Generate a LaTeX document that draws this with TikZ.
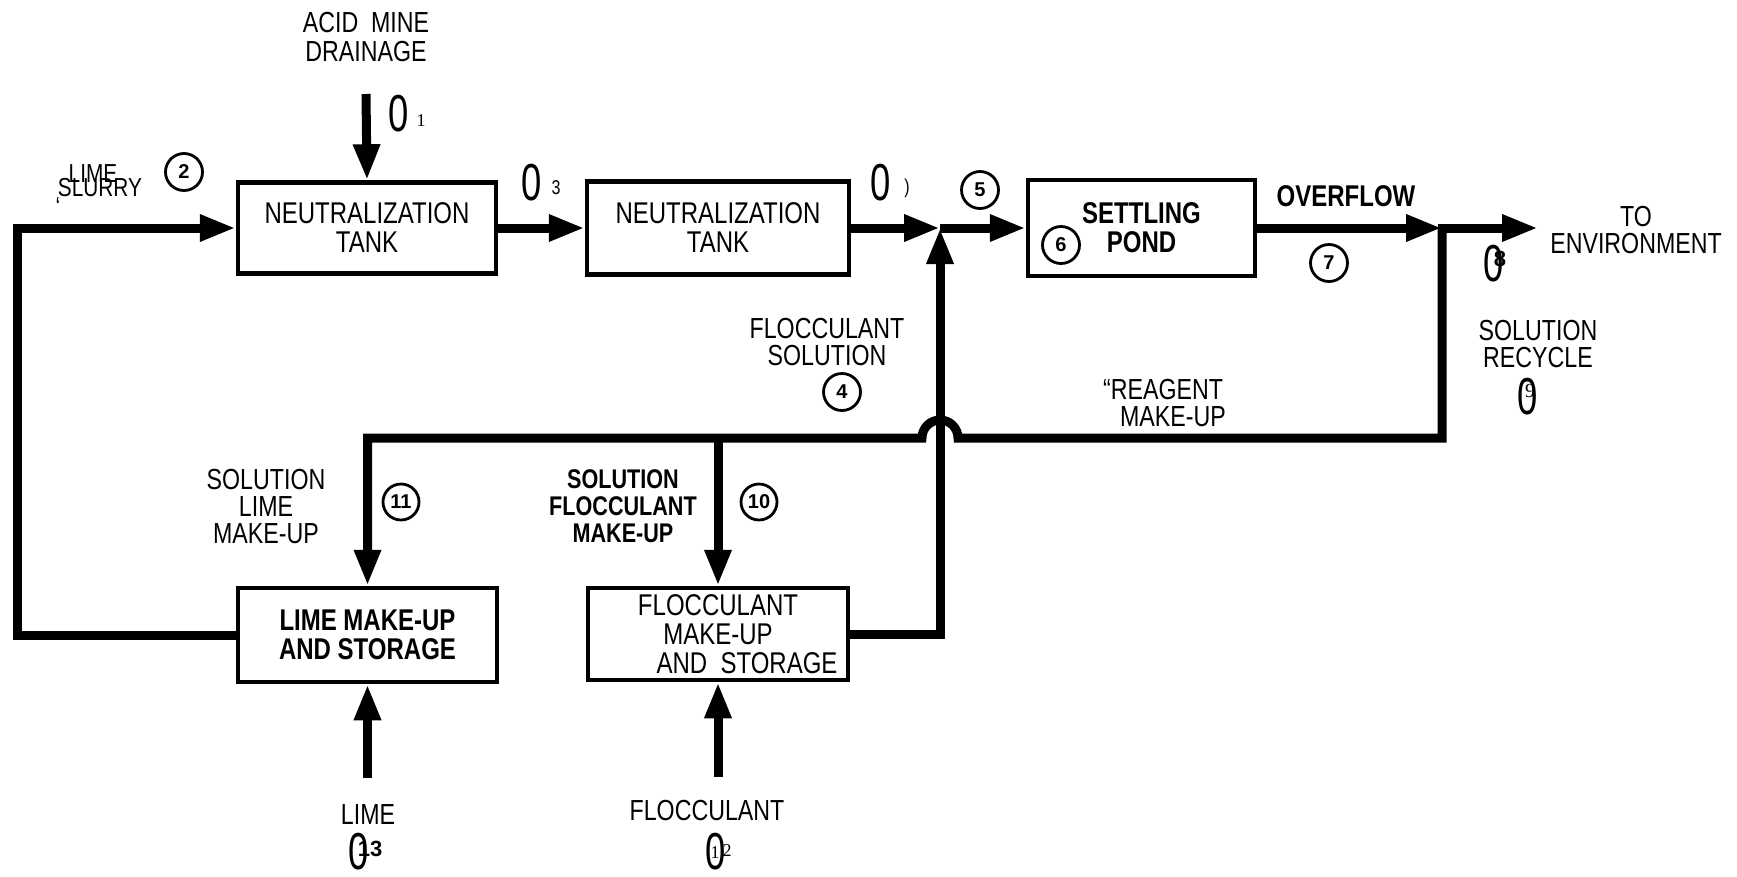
\documentclass[tikz,border=0pt]{standalone}
\usepackage{fontspec}
\setmainfont{Liberation Sans}[FakeStretch=0.8]
\newfontfamily\numfont{Liberation Sans}
\newfontfamily\zerofont{Liberation Sans}[FakeStretch=0.7]
\newfontfamily\serfont{Liberation Serif}
\usetikzlibrary{arrows.meta}
\newcommand\lblf{\fontsize{29}{27}\selectfont}
\newcommand\boxf{\fontsize{30}{29}\selectfont}
\newcommand\smallf{\fontsize{26}{26}\selectfont}
\tikzset{
  flow/.style={line width=9pt},
  arr/.style={flow, -{Triangle[length=36pt,width=25pt]}},
  box/.style={draw, line width=4.5pt, align=center, inner sep=0pt, font=\boxf},
  lbl/.style={align=center, inner sep=0pt, font=\lblf},
  blbl/.style={align=center, inner sep=0pt, font=\lblf\bfseries},
  num/.style={circle, draw, line width=2.8pt, minimum size=37pt, inner sep=0pt,
    font=\numfont\bfseries\fontsize{20}{20}\selectfont},
  zero/.style={inner sep=0pt, font=\zerofont\fontsize{52}{52}\selectfont},
  sml/.style={inner sep=0pt, font=\fontsize{20}{20}\selectfont},
  smlser/.style={inner sep=0pt, font=\serfont\fontsize{18}{18}\selectfont},
  smlbf/.style={inner sep=0pt, font=\numfont\bfseries\fontsize{22}{22}\selectfont},
}
\begin{document}
\begin{tikzpicture}[x=1pt,y=-1pt]
\useasboundingbox (0,0) rectangle (1737,876);
% boxes
\node[box, minimum width=258pt, minimum height=91pt] (nt1) at (367,228) {NEUTRALIZATION\\TANK};
\node[box, minimum width=262pt, minimum height=93pt] (nt2) at (718,228) {NEUTRALIZATION\\TANK};
\node[box, minimum width=227pt, minimum height=96pt, font=\boxf\bfseries] (pond) at (1141.5,228) {SETTLING\\POND};
\node[box, minimum width=259pt, minimum height=94pt, font=\boxf\bfseries] (lime) at (367.5,635) {LIME MAKE-UP\\AND STORAGE};
\node[box, minimum width=260pt, minimum height=92pt] (floc) at (718,634) {FLOCCULANT\\MAKE-UP\\\hspace*{58pt}AND~~STORAGE};
% coordinates
\coordinate (A) at (366,94);
\coordinate (LB) at (17,635);
\coordinate (LT) at (17,228);
\coordinate (J) at (940,228);
\coordinate (S) at (1442,228);
\coordinate (E) at (1538,228);
\coordinate (RB) at (1442,438);
\coordinate (H1) at (958,438);
\coordinate (B11) at (367.5,438);
\coordinate (B10) at (718,438);
\coordinate (FJ) at (940,634);
\coordinate (LIN) at (367.5,778);
\coordinate (FIN) at (718,777);
% connectors
\draw[arr] (A) -- (nt1.north);
\draw[arr] (lime.west) -- (LB) -- (LT) -- (nt1.west);
\draw[arr] (nt1.east) -- (nt2.west);
\draw[arr] (nt2.east) -- (J);
\draw[arr] (J) -- (pond.west);
\draw[arr] (pond.east) -- (S);
\draw[arr, shorten <=-4.5pt] (S) -- (E);
\draw[arr] (S) -- (RB) -- (H1) arc[start angle=0, end angle=-180, radius=18] -- (B11) -- (lime.north);
\draw[arr] (B10) -- (floc.north);
\draw[arr] (floc.east) -- (FJ) -- (J);
\draw[arr] (LIN) -- (lime.south);
\draw[arr] (FIN) -- (floc.south);
% labels
\node[lbl, font=\fontsize{29}{29}\selectfont] (acid) at (366,37) {ACID~~MINE\\DRAINAGE};
\node[zero] (z1) at (399,114) {0};
\node[smlser] (s1) at (421,121) {1};
\node[inner sep=0pt, font=\smallf] (limesl) at (93,174) {LIME};
\node[inner sep=0pt, font=\smallf] (slurry) at (100,188) {SLURRY};
\node[inner sep=0pt, font=\smallf] (tick) at (58,207) {`};
\node[num] (n2) at (184,172) {2};
\node[zero] (z3) at (532,183) {0};
\node[sml] (s3) at (556,188) {3};
\node[zero] (z3b) at (881,183) {0};
\node[sml] (s3b) at (907,188) {)};
\node[num] (n5) at (980,190) {5};
\node[num] (n6) at (1061,245) {6};
\node[blbl, font=\fontsize{30}{30}\selectfont\bfseries] (over) at (1346,196) {OVERFLOW};
\node[num] (n7) at (1329,263) {7};
\node[lbl] (env) at (1636,230) {TO\\ENVIRONMENT};
\node[zero] (z8) at (1494,264) {0};
\node[smlbf] (d8) at (1500,259) {8};
\node[lbl] (recyc) at (1538,344) {SOLUTION\\RECYCLE};
\node[zero] (z9) at (1528,397) {0};
\node[smlser, font=\serfont\fontsize{20}{20}\selectfont] (d9) at (1530,391) {9};
\node[lbl] (reag) at (1163,403) {``REAGENT\\\hspace*{20pt}MAKE-UP};
\node[lbl] (flsol) at (827,342) {FLOCCULANT\\SOLUTION};
\node[num] (n4) at (842,392) {4};
\node[num, minimum size=36pt] (n11) at (401,502) {11};
\node[num, minimum size=36pt] (n10) at (759,502) {10};
\node[lbl] (slm) at (266,507) {SOLUTION\\LIME\\MAKE-UP};
\node[blbl, font=\fontsize{27}{27}\selectfont\bfseries] (sfm) at (623,506) {SOLUTION\\FLOCCULANT\\MAKE-UP};
\node[lbl] (limelbl) at (368,815) {LIME};
\node[zero] (z13) at (359,852) {0};
\node[smlbf] (d13) at (370,849) {13};
\node[lbl] (floclbl) at (707,811) {FLOCCULANT};
\node[zero] (z12) at (716,852) {0};
\node[smlser] (d12a) at (715,853) {1};
\node[smlser] (d12b) at (727,851) {2};
\end{tikzpicture}
\end{document}
